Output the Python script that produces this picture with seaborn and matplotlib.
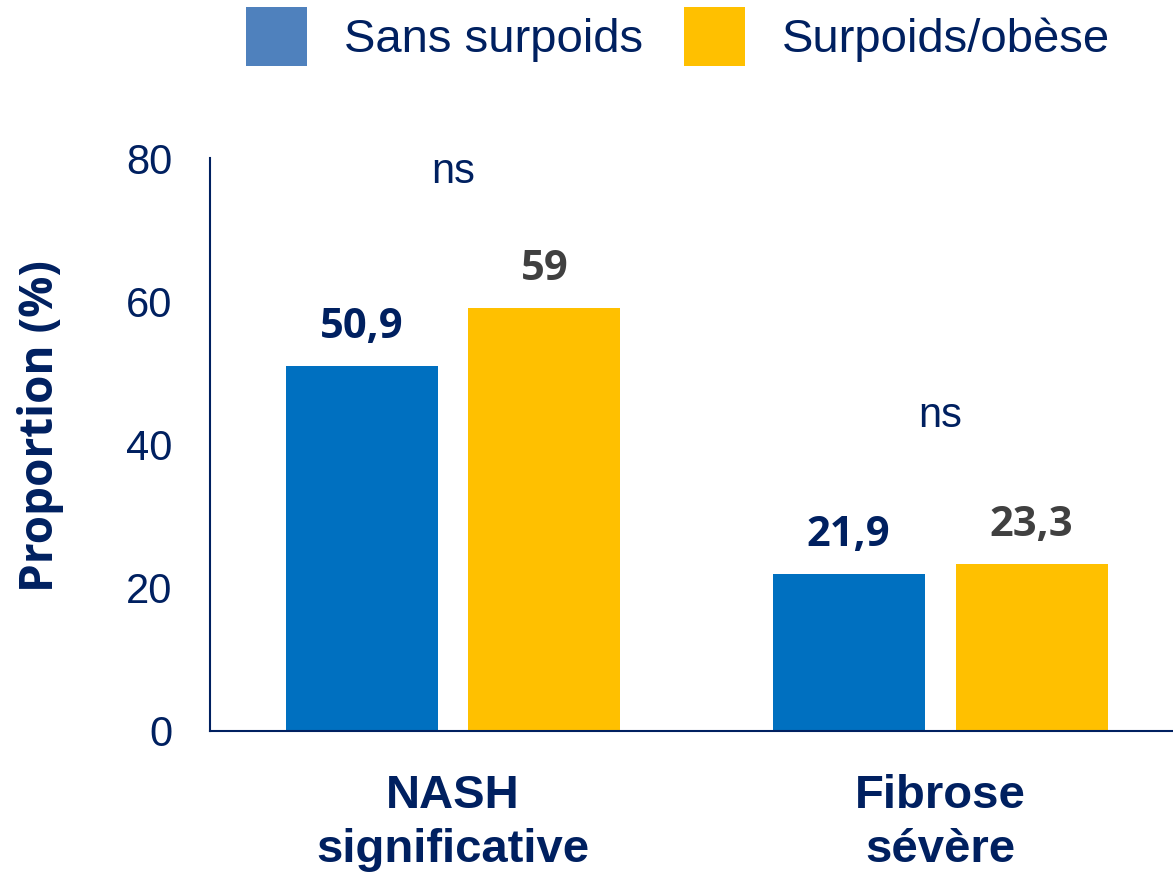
import matplotlib
matplotlib.use("Agg")
import matplotlib.pyplot as plt
import seaborn as sns
import pandas as pd
from matplotlib.patches import Patch

categories = ["NASH\nsignificative", "Fibrose\nsévère"]
groups = ["Sans surpoids", "Surpoids/obèse"]
sans_surpoids = [50.9, 21.9]
surpoids_obese = [59.0, 23.3]
labels_sans = ["50,9", "21,9"]
labels_surp = ["59", "23,3"]
ns_labels = ["ns", "ns"]
ns_y = [78, 44]
yticks = [0, 20, 40, 60, 80]

bar_colors = {"Sans surpoids": "#0070C0", "Surpoids/obèse": "#FFC000"}
legend_colors = ["#4F81BD", "#FFC000"]
navy = "#002060"
grey = "#404040"

df = pd.DataFrame({
    "cat": categories * 2,
    "grp": [groups[0]] * 2 + [groups[1]] * 2,
    "val": sans_surpoids + surpoids_obese,
})

sns.set_theme(style="white")
plt.rcParams["font.family"] = ["Liberation Sans", "DejaVu Sans"]

fig = plt.figure(figsize=(11.73, 8.75), dpi=100)
ax = fig.add_axes([0.179, 0.1646, 0.821, 0.6548])

sns.barplot(data=df, x="cat", y="val", hue="grp", order=categories, hue_order=groups,
            palette=bar_colors, saturation=1, width=0.751, gap=0.169, ax=ax, legend=False,
            edgecolor="none", linewidth=0)

ax.set_ylim(0, 80)
ax.set_xlim(-0.499, 1.478)
ax.set_yticks(yticks)
ax.set_yticklabels([str(t) for t in yticks], fontsize=30, color=navy)
ax.tick_params(axis="both", length=0)
ax.tick_params(axis="y", pad=27)
ax.set_xticks(range(len(categories)))
ax.set_xticklabels(categories, fontsize=34, fontweight="bold", color=navy, linespacing=1.3)
ax.tick_params(axis="x", pad=31)

for s in ["top", "right"]:
    ax.spines[s].set_visible(False)
for s in ["left", "bottom"]:
    ax.spines[s].set_color(navy)
    ax.spines[s].set_linewidth(1.5)

ax.set_xlabel("")
ax.set_ylabel("Proportion (%)", fontsize=33, fontweight="bold", color=navy,
              family=["Open Sans", "DejaVu Sans"])
ax.yaxis.set_label_coords(-0.152, 0.532)

# value labels
conts = ax.containers
for cont, labs, col in zip(conts, [labels_sans, labels_surp], [navy, grey]):
    for bar, lab in zip(cont, labs):
        x = bar.get_x() + bar.get_width() / 2
        ax.annotate(lab, (x, bar.get_height()), xytext=(0, 28), textcoords="offset points",
                    ha="center", va="center", fontsize=30, fontweight="bold", color=col,
                    family=["Open Sans", "DejaVu Sans"])

for i, (t, y) in enumerate(zip(ns_labels, ns_y)):
    ax.text(i, y, t, ha="center", va="center", fontsize=30, color=navy)

handles = [Patch(facecolor=c, edgecolor="none") for c in legend_colors]
fig.legend(handles, groups, loc="upper center", bbox_to_anchor=(0.578, 1.0), ncol=2,
           frameon=False, fontsize=34, labelcolor=navy, handlelength=1.3, handleheight=1.55,
           handletextpad=0.77, columnspacing=0.87, borderaxespad=0.05, borderpad=0.1)

fig.savefig("out.png", dpi=100)
